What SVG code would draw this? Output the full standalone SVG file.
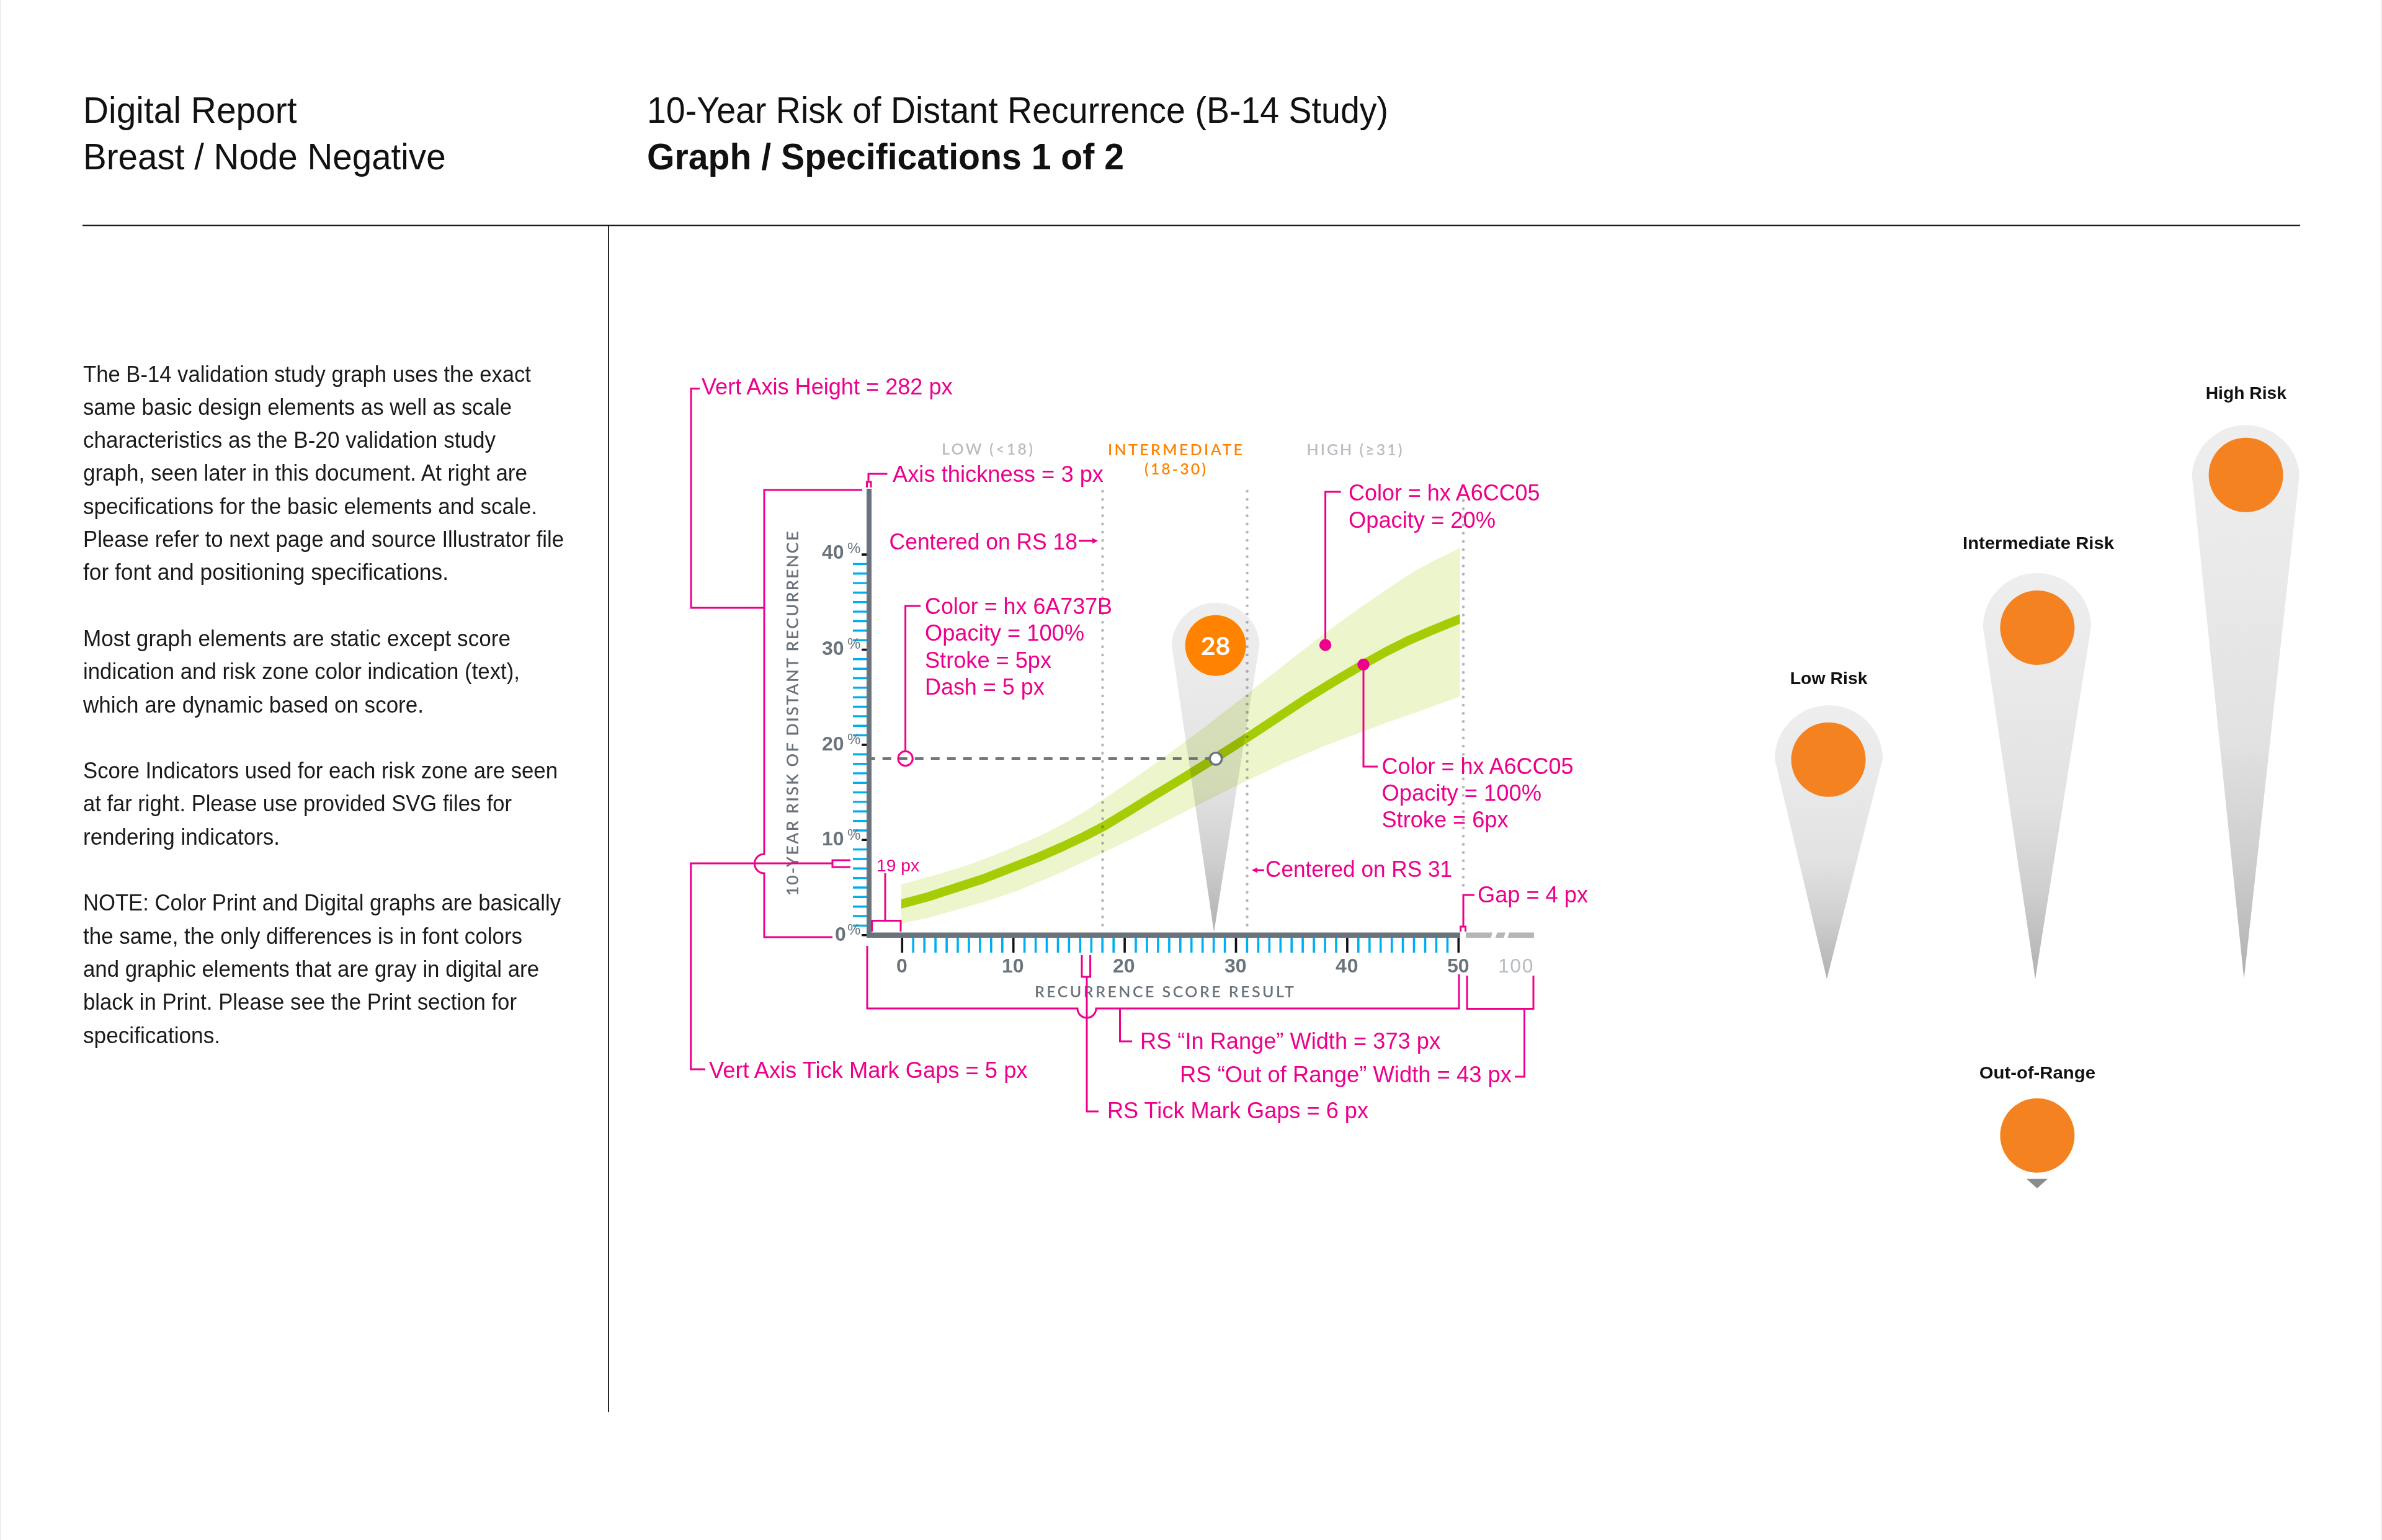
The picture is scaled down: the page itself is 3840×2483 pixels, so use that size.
<svg xmlns="http://www.w3.org/2000/svg" width="3840" height="2483" viewBox="0 0 3840 2483">
<style>
text{font-family:"Liberation Sans",Arial,sans-serif}
.hd{font-size:60px;fill:#111}
.hb{font-size:60px;font-weight:700;fill:#111}
.body{font-size:36px;fill:#1a1a1a}
.p{font-size:37px;fill:#ec008c}
.lead{fill:none;stroke:#ec008c;stroke-width:3}
.ax{font-family:Lato,"Open Sans",sans-serif;font-weight:600;fill:#6a737b}
.num{font-size:32px;letter-spacing:2.5px}
.pc{font-size:24px;font-weight:400}
.zone{font-family:Lato,"Open Sans",sans-serif;font-size:25px;font-weight:600}
.pinlabel{font-size:28px;font-weight:700;fill:#111}
.dots{fill:none;stroke:#b4b6b8;stroke-width:4.6;stroke-linecap:round;stroke-dasharray:0 13.2;mix-blend-mode:multiply}
.ball{fill:#f58220}
</style>
<defs>
<linearGradient id="pinGrad" x1="0" y1="0" x2="0" y2="1">
<stop offset="0" stop-color="#eeeeee"/><stop offset=".28" stop-color="#e9e9e9"/><stop offset=".565" stop-color="#e2e2e2"/><stop offset=".78" stop-color="#cfcfcf"/><stop offset=".97" stop-color="#b5b5b5"/><stop offset="1" stop-color="#aeaeae"/>
</linearGradient>
<clipPath id="curveClip"><rect x="1453" y="800" width="900.5" height="720"/></clipPath>
</defs>
<rect width="3840" height="2483" fill="#fff"/>
<rect x="0" y="0" width="2" height="2483" fill="#eeeeee"/>
<rect x="3838" y="0" width="2" height="2483" fill="#eeeeee"/>
<g id="header">
<text class="hd" x="134" y="197.6" textLength="344.6" lengthAdjust="spacingAndGlyphs">Digital Report</text>
<text class="hd" x="134" y="273" textLength="584.6" lengthAdjust="spacingAndGlyphs">Breast / Node Negative</text>
<text class="hd" x="1043" y="197.6" textLength="1195" lengthAdjust="spacingAndGlyphs">10-Year Risk of Distant Recurrence (B-14 Study)</text>
<text class="hb" x="1043" y="273" textLength="769" lengthAdjust="spacingAndGlyphs">Graph / Specifications 1 of 2</text>
<rect x="133" y="362.5" width="3575" height="2" fill="#111"/>
<rect x="980" y="364" width="1.8" height="1913" fill="#111"/>
</g>
<g id="body-text">
<text class="body" x="134" y="615.5" textLength="722" lengthAdjust="spacingAndGlyphs">The B-14 validation study graph uses the exact</text>
<text class="body" x="134" y="668.8" textLength="691" lengthAdjust="spacingAndGlyphs">same basic design elements as well as scale</text>
<text class="body" x="134" y="722.1" textLength="665" lengthAdjust="spacingAndGlyphs">characteristics as the B-20 validation study</text>
<text class="body" x="134" y="775.4" textLength="716" lengthAdjust="spacingAndGlyphs">graph, seen later in this document. At right are</text>
<text class="body" x="134" y="828.7" textLength="732" lengthAdjust="spacingAndGlyphs">specifications for the basic elements and scale.</text>
<text class="body" x="134" y="882" textLength="775" lengthAdjust="spacingAndGlyphs">Please refer to next page and source Illustrator file</text>
<text class="body" x="134" y="935.3" textLength="589" lengthAdjust="spacingAndGlyphs">for font and positioning specifications.</text>
<text class="body" x="134" y="1041.9" textLength="689" lengthAdjust="spacingAndGlyphs">Most graph elements are static except score</text>
<text class="body" x="134" y="1095.2" textLength="704" lengthAdjust="spacingAndGlyphs">indication and risk zone color indication (text),</text>
<text class="body" x="134" y="1148.5" textLength="549" lengthAdjust="spacingAndGlyphs">which are dynamic based on score.</text>
<text class="body" x="134" y="1255.1" textLength="765" lengthAdjust="spacingAndGlyphs">Score Indicators used for each risk zone are seen</text>
<text class="body" x="134" y="1308.4" textLength="691" lengthAdjust="spacingAndGlyphs">at far right. Please use provided SVG files for</text>
<text class="body" x="134" y="1361.7" textLength="317" lengthAdjust="spacingAndGlyphs">rendering indicators.</text>
<text class="body" x="134" y="1468.3" textLength="770" lengthAdjust="spacingAndGlyphs">NOTE: Color Print and Digital graphs are basically</text>
<text class="body" x="134" y="1521.6" textLength="708" lengthAdjust="spacingAndGlyphs">the same, the only differences is in font colors</text>
<text class="body" x="134" y="1574.9" textLength="735" lengthAdjust="spacingAndGlyphs">and graphic elements that are gray in digital are</text>
<text class="body" x="134" y="1628.2" textLength="699" lengthAdjust="spacingAndGlyphs">black in Print. Please see the Print section for</text>
<text class="body" x="134" y="1681.5" textLength="221" lengthAdjust="spacingAndGlyphs">specifications.</text>
</g>
<g id="graph">
<path id="y-ticks-minor" fill="none" stroke="#00aeef" stroke-width="3.4" d="M1375 1492.4H1400M1375 1477H1400M1375 1461.7H1400M1375 1446.3H1400M1375 1431H1400M1375 1415.7H1400M1375 1400.3H1400M1375 1385H1400M1375 1369.6H1400M1375 1339H1400M1375 1323.6H1400M1375 1308.3H1400M1375 1292.9H1400M1375 1277.6H1400M1375 1262.3H1400M1375 1246.9H1400M1375 1231.6H1400M1375 1216.2H1400M1375 1185.6H1400M1375 1170.2H1400M1375 1154.9H1400M1375 1139.5H1400M1375 1124.2H1400M1375 1108.9H1400M1375 1093.5H1400M1375 1078.2H1400M1375 1062.8H1400M1375 1032.2H1400M1375 1016.8H1400M1375 1001.5H1400M1375 986.1H1400M1375 970.8H1400M1375 955.5H1400M1375 940.1H1400M1375 924.8H1400M1375 909.4H1400"/>
<path id="y-ticks-major" fill="none" stroke="#111" stroke-width="3.6" d="M1389 1507.7H1400M1389 1354.3H1400M1389 1200.9H1400M1389 1047.5H1400M1389 894.1H1400"/>
<path id="x-ticks-minor" fill="none" stroke="#00aeef" stroke-width="3.6" d="M1472.2 1510V1536M1490.2 1510V1536M1508.1 1510V1536M1526.1 1510V1536M1544 1510V1536M1561.9 1510V1536M1579.9 1510V1536M1597.8 1510V1536M1615.8 1510V1536M1651.6 1510V1536M1669.6 1510V1536M1687.5 1510V1536M1705.5 1510V1536M1723.4 1510V1536M1741.3 1510V1536M1759.3 1510V1536M1777.2 1510V1536M1795.2 1510V1536M1831 1510V1536M1849 1510V1536M1866.9 1510V1536M1884.9 1510V1536M1902.8 1510V1536M1920.7 1510V1536M1938.7 1510V1536M1956.6 1510V1536M1974.6 1510V1536M2010.4 1510V1536M2028.4 1510V1536M2046.3 1510V1536M2064.3 1510V1536M2082.2 1510V1536M2100.1 1510V1536M2118.1 1510V1536M2136 1510V1536M2154 1510V1536M2189.8 1510V1536M2207.8 1510V1536M2225.7 1510V1536M2243.7 1510V1536M2261.6 1510V1536M2279.5 1510V1536M2297.5 1510V1536M2315.4 1510V1536M2333.4 1510V1536"/>
<path id="x-ticks-major" fill="none" stroke="#111" stroke-width="3.6" d="M1454.3 1510V1536M1633.7 1510V1536M1813.1 1510V1536M1992.5 1510V1536M2171.9 1510V1536M2351.3 1510V1536"/>
<polygon id="confidence-band" fill="#a6cc05" fill-opacity=".2" points="1453,1426 1510,1410 1559.6,1395 1600,1380 1641,1363 1678,1347 1713,1329 1746,1310 1780,1288 1830,1254 1882,1217 1945,1170 2009.6,1120 2070,1072 2132,1024 2185,985 2239,948 2272,926 2305.5,907 2330,895 2353.5,883.6 2353.5,1123 2296,1144 2239,1164 2188,1183 2137,1202 2073,1229 2009.6,1259 1945,1291 1882,1323 1830,1350 1780,1374 1710,1407 1641,1436 1590,1453 1539,1468 1495,1480 1453,1489"/>
<g clip-path="url(#curveClip)"><polyline id="risk-curve" fill="none" stroke="#a6cc05" stroke-width="14.5" stroke-linejoin="round" points="1430,1464 1453,1457.5 1496,1446 1539,1432 1585,1417 1631,1399 1672,1383 1713,1365 1747,1349 1780,1332 1818,1309 1856.5,1285 1908,1254 1959.6,1222 2009.6,1190 2058,1158 2106.5,1126 2152,1098 2198,1071 2234,1051 2270,1033 2302,1019 2333.6,1006 2353.5,998 2375,989"/></g>
<g id="score-indicator">
<path d="M1957 1503L1888.7 1039A71 71 0 0 1 2030.5 1039Z" fill="url(#pinGrad)" style="mix-blend-mode:multiply"/>
<circle cx="1959.6" cy="1040.7" r="49" fill="#ff8300"/>
<text x="1959.6" y="1056" text-anchor="middle" font-size="41" font-weight="700" fill="#fff" style="font-family:Lato,'Open Sans',sans-serif">28</text>
</g>
<path class="dots" d="M1777.5 792V1494M2010.5 792V1494M2359 807V1440"/>
<line x1="1396.7" y1="1223" x2="1952" y2="1223" stroke="#6a737b" stroke-width="4" stroke-dasharray="14 12"/>
<circle cx="1960" cy="1223.3" r="9.7" fill="#fff" stroke="#6a737b" stroke-width="3.4"/>
<path id="axes" fill="#6a737b" d="M1397 788h8v715.5h949v8.5h-957z"/>
<g id="out-of-range-axis" fill="#b5b6b8">
<path d="M2363 1503.5h43l-2.6 8.5h-40.4z"/>
<path d="M2413.7 1503.5h13.3l-3 8.5h-13.4z"/>
<path d="M2433 1503.5h40v8.5h-42.6z"/>
</g>
<g class="ax num">
<text x="1325" y="901" textLength="38" lengthAdjust="spacing">40</text>
<text x="1325" y="1056" textLength="38" lengthAdjust="spacing">30</text>
<text x="1325" y="1209.5" textLength="38" lengthAdjust="spacing">20</text>
<text x="1325" y="1363" textLength="38" lengthAdjust="spacing">10</text>
<text x="1346" y="1517">0</text>
</g>
<g class="ax pc">
<text x="1366" y="892">%</text><text x="1366" y="1046">%</text><text x="1366" y="1199.5">%</text><text x="1366" y="1353.5">%</text><text x="1366" y="1507">%</text>
</g>
<g class="ax num">
<text x="1445" y="1568">0</text>
<text x="1615" y="1568" textLength="38" lengthAdjust="spacing">10</text>
<text x="1794" y="1568" textLength="38" lengthAdjust="spacing">20</text>
<text x="1974" y="1568" textLength="38" lengthAdjust="spacing">30</text>
<text x="2153" y="1568" textLength="39" lengthAdjust="spacing">40</text>
<text x="2333" y="1568" textLength="38" lengthAdjust="spacing">50</text>
<text x="2415" y="1568" textLength="59" lengthAdjust="spacing" style="fill:#b9bcc0;font-weight:400">100</text>
</g>
<text class="ax" font-size="25" x="1668" y="1608" textLength="418" lengthAdjust="spacing">RECURRENCE SCORE RESULT</text>
<text class="ax" font-size="27" transform="translate(1287 1444.5) rotate(-90)" textLength="588" lengthAdjust="spacing">10-YEAR RISK OF DISTANT RECURRENCE</text>
<text class="zone" x="1518" y="733" textLength="147" lengthAdjust="spacing" fill="#b9bcc0">LOW (&lt;18)</text>
<text class="zone" x="1786" y="733.5" textLength="217" lengthAdjust="spacing" fill="#ff8300">INTERMEDIATE</text>
<text class="zone" x="1845" y="765" textLength="99" lengthAdjust="spacing" fill="#ff8300">(18-30)</text>
<text class="zone" x="2106.5" y="733.5" textLength="154" lengthAdjust="spacing" fill="#b9bcc0">HIGH (≥31)</text>
</g>
<g id="connectors">
<path class="lead" d="M1128 626.5H1114V980H1232"/>
<path class="lead" d="M1390 790H1232V1377A15.5 15.5 0 0 0 1232 1408V1511H1342"/>
<path class="lead" d="M1137 1724H1113.7V1392H1342M1371 1387H1342V1398H1371"/>
<path class="lead" d="M1430.5 764H1400V775M1397.5 786V777H1404V786"/>
<path class="lead" d="M1739 872H1762"/>
<path d="M1770 872l-9-4.5v9z" fill="#ec008c"/>
<path class="lead" d="M1484 977H1459.6V1211"/>
<circle class="lead" cx="1459.6" cy="1223" r="11.7"/>
<path class="lead" d="M1427 1408V1484.5M1405.7 1502V1484.5H1452V1502"/>
<path class="lead" d="M1398 1525V1626H1737A15 15 0 0 0 1767 1626H2352V1571"/>
<path class="lead" d="M1744 1540V1575H1757.6V1540M1752 1575V1792H1771"/>
<path class="lead" d="M1805.5 1626V1679H1825"/>
<path class="lead" d="M2365 1573V1626.5H2472V1573M2457.5 1626.5V1736H2442"/>
<path class="lead" d="M2038 1403H2026"/>
<path d="M2018 1403l9-4.5v9z" fill="#ec008c"/>
<path class="lead" d="M2377 1443H2359V1493M2354.5 1502V1494H2362.5V1502"/>
<path class="lead" d="M2161.6 793H2136.6V1040"/>
<circle cx="2136.6" cy="1040" r="9.7" fill="#ec008c"/>
<path class="lead" d="M2221 1236H2198V1071.5"/>
<circle cx="2198" cy="1071.5" r="9.7" fill="#ec008c"/>
</g>
<g id="annotations">
<text class="p" x="1131" y="636" textLength="404.6" lengthAdjust="spacingAndGlyphs">Vert Axis Height = 282 px</text>
<text class="p" x="1439" y="777" textLength="340" lengthAdjust="spacingAndGlyphs">Axis thickness = 3 px</text>
<text class="p" x="1433.6" y="886" textLength="303.4" lengthAdjust="spacingAndGlyphs">Centered on RS 18</text>
<text class="p" x="1491" y="990" textLength="302" lengthAdjust="spacingAndGlyphs">Color = hx 6A737B</text>
<text class="p" x="1491" y="1033.3" textLength="257" lengthAdjust="spacingAndGlyphs">Opacity = 100%</text>
<text class="p" x="1491" y="1076.6" textLength="204" lengthAdjust="spacingAndGlyphs">Stroke = 5px</text>
<text class="p" x="1491" y="1120" textLength="192.6" lengthAdjust="spacingAndGlyphs">Dash = 5 px</text>
<text class="p" x="2174" y="807" textLength="308.6" lengthAdjust="spacingAndGlyphs">Color = hx A6CC05</text>
<text class="p" x="2174" y="850.5" textLength="237" lengthAdjust="spacingAndGlyphs">Opacity = 20%</text>
<text class="p" x="2227.5" y="1248" textLength="309" lengthAdjust="spacingAndGlyphs">Color = hx A6CC05</text>
<text class="p" x="2227.5" y="1290.7" textLength="257.5" lengthAdjust="spacingAndGlyphs">Opacity = 100%</text>
<text class="p" x="2227.5" y="1334" textLength="204" lengthAdjust="spacingAndGlyphs">Stroke = 6px</text>
<text class="p" x="2040" y="1414" textLength="301" lengthAdjust="spacingAndGlyphs">Centered on RS 31</text>
<text class="p" x="2382" y="1455" textLength="178" lengthAdjust="spacingAndGlyphs">Gap = 4 px</text>
<text class="p" x="1413" y="1405" style="font-size:28px" textLength="69" lengthAdjust="spacingAndGlyphs">19 px</text>
<text class="p" x="1143" y="1737.7" textLength="513.5" lengthAdjust="spacingAndGlyphs">Vert Axis Tick Mark Gaps = 5 px</text>
<text class="p" x="1838" y="1691" textLength="484" lengthAdjust="spacingAndGlyphs">RS “In Range” Width = 373 px</text>
<text class="p" x="1902" y="1745" textLength="535" lengthAdjust="spacingAndGlyphs">RS “Out of Range” Width = 43 px</text>
<text class="p" x="1785" y="1803" textLength="421" lengthAdjust="spacingAndGlyphs">RS Tick Mark Gaps = 6 px</text>
</g>
<g id="low-risk">
<text class="pinlabel" x="2885.7" y="1102.6" textLength="125" lengthAdjust="spacingAndGlyphs">Low Risk</text>
<path d="M2945 1578.6L2861 1224A87 87 0 0 1 3035 1224Z" fill="url(#pinGrad)"/>
<circle class="ball" cx="2947.6" cy="1224.8" r="60"/>
</g>
<g id="intermediate-risk">
<text class="pinlabel" x="3164" y="884.6" textLength="244" lengthAdjust="spacingAndGlyphs">Intermediate Risk</text>
<path d="M3281 1578.6L3196.8 1011A87 87 0 0 1 3371 1011Z" fill="url(#pinGrad)"/>
<circle class="ball" cx="3284.4" cy="1012" r="60"/>
</g>
<g id="high-risk">
<text class="pinlabel" x="3555.7" y="643" textLength="130.3" lengthAdjust="spacingAndGlyphs">High Risk</text>
<path d="M3617.5 1578.6L3533.6 765A87 87 0 0 1 3707 765Z" fill="url(#pinGrad)"/>
<circle class="ball" cx="3620.6" cy="765.8" r="60"/>
</g>
<g id="out-of-range">
<text class="pinlabel" x="3190.7" y="1739" textLength="187.3" lengthAdjust="spacingAndGlyphs">Out-of-Range</text>
<circle class="ball" cx="3284.4" cy="1830.8" r="60"/>
<path d="M3267 1900.8H3301L3284 1916Z" fill="#8a8c8e"/>
</g>
</svg>
